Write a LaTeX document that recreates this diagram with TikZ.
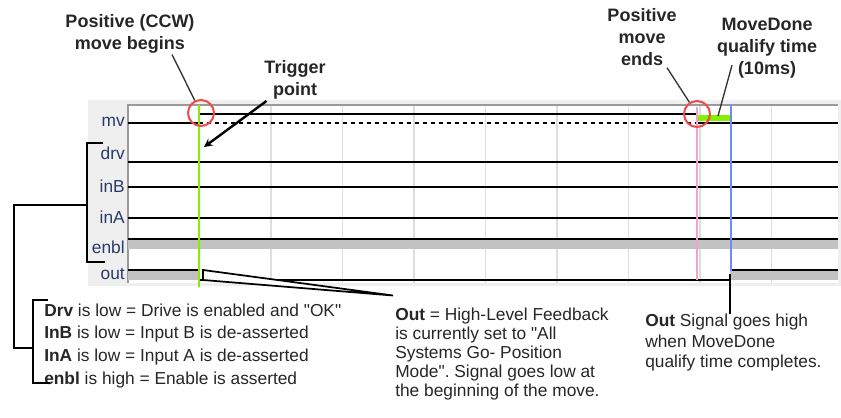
\documentclass[tikz,border=0pt]{standalone}
\usepackage{fontspec}
\setmainfont{Liberation Sans}[Ligatures=TeXOff]
\usepackage{xcolor}
\usepackage{tikz}
\usetikzlibrary{arrows, positioning, calc}
\frenchspacing

\definecolor{panelgray}{HTML}{EFEFEF}
\definecolor{gridgray}{HTML}{DEDEDE}
\definecolor{bandgray}{HTML}{C2C2C2}
\definecolor{framegray}{HTML}{9A9A9A}
\definecolor{labelblue}{HTML}{2B3A67}
\definecolor{trigreen}{HTML}{84F000}
\definecolor{endpink}{HTML}{F4A2CA}
\definecolor{doneblue}{HTML}{6E88FF}
\definecolor{ringred}{HTML}{EE4B4B}

\begin{document}
\begin{tikzpicture}[
    x=0.75pt, y=-0.75pt,
    note/.style={font=\bfseries\fontsize{13.5}{16.5}\selectfont, align=center, text=black!85, inner sep=1pt},
    sig/.style={font=\fontsize{13}{15}\selectfont, text=labelblue, anchor=east, inner sep=0pt},
    remark/.style={font=\fontsize{13}{17}\selectfont, align=left, anchor=north west, inner sep=0pt, text=black!85},
    ring/.style={draw=ringred, circle, line width=1.5pt, minimum size=19.5pt, inner sep=0pt},
    wave/.style={line width=1.1pt},
    gridline/.style={draw=gridgray, line width=1.1pt},
    lead/.style={draw=black!80, line width=1pt},
    arrow/.style={line width=1.8pt, ->, >=stealth},
    bracket/.style={line width=2.2pt},
    wedge/.style={draw, fill=white, line width=1.3pt, line join=miter}
]
\useasboundingbox (0,0) rectangle (841,417);

\fill[panelgray] (88,100) rectangle (841,286);
\fill[white] (128,105) rectangle (838,283);
\foreach \gx in {199.5,271,342.5,414,485.5,557,628.5,700,771.5}
    \draw[gridline] (\gx,105) -- (\gx,283);
\draw[framegray, line width=1.6pt] (128,283) -- (128,105) -- (838,105);

\node (mv) [sig] at (125,122) {mv};
\node (drv) [sig] at (125,153) {drv};
\node (inB) [sig] at (125,186) {inB};
\node (inA) [sig] at (125,217) {inA};
\node (enbl) [sig] at (125,247) {enbl};
\node (out) [sig] at (125,274) {out};

\draw[wave] (128,123) -- (199,123);
\draw[wave] (199,114) -- (697,114);
\draw[wave, dashed] (199,123) -- (697,123);
\draw[wave] (697,123) -- (838,123);
\fill[trigreen] (697,115) rectangle (730,121.5);
\draw[wave] (128,162) -- (838,162);
\draw[wave] (128,187) -- (838,187);
\draw[wave] (128,218) -- (838,218);
\fill[bandgray] (128,239) rectangle (838,249);
\draw[wave] (128,239) -- (838,239);
\fill[bandgray] (128,270) rectangle (199,280);
\draw[wave] (128,270) -- (199,270);
\draw[wave] (199,280) -- (730,280);
\fill[bandgray] (730,270) rectangle (838,280);
\draw[wave] (730,270) -- (838,270);

\draw[trigreen, line width=2.2pt] (199,105) -- (199,287);
\draw[endpink, line width=2pt] (697,107) -- (697,280);
\draw[doneblue, line width=1.5pt] (731,105) -- (731,271);

\node (ringstart) [ring] at (201,113) {};
\node (ringend) [ring] at (697,114) {};

\node (begins) [note] at (130,33.5) {Positive (CCW)\\move begins};
\node (trigger) [note] at (295,80) {Trigger\\point};
\node (ends) [note] at (642,37.5) {Positive\\move\\ends};
\node (qualify) [note] at (767,48.5) {MoveDone\\qualify time\\(10ms)};
\coordinate (trigtip) at (204,147);
\coordinate (qualifybar) at (718,116);

\draw[lead] ([xshift=31.5pt]begins.south) -- (ringstart);
\draw[arrow] (trigger) -- (trigtip);
\draw[lead] ([xshift=18.75pt]ends.south) -- (ringend);
\draw[lead] ([shift={(-35,-15)}]qualify.south) -- (qualifybar);

\node (statusnote) [remark] at (44,303.5) {\textbf{Drv} is low = Drive is enabled and "OK"\\
    \textbf{InB} is low = Input B is de-asserted\\
    \textbf{InA} is low = Input A is de-asserted\\
    \textbf{enbl} is high = Enable is asserted};
\node (outnote) [remark, font=\fontsize{13}{14.25}\selectfont] at (395,307.5) {\textbf{Out} = High-Level Feedback\\
    is currently set to "All\\
    Systems Go- Position\\
    Mode". Signal goes low at\\
    the beginning of the move.};
\node (donenote) [remark, font=\fontsize{13}{15.6}\selectfont] at (645,313.5) {\textbf{Out} Signal goes high\\
    when MoveDone\\
    qualify time completes.};

\coordinate (sigbrace) at (87,205);
\coordinate (notebrace) at (33,348);
\coordinate (outrise) at (730,274);
\draw[bracket] (103,143) -- (87,143) -- (87,262) -- (105,262);
\draw[bracket] (48,300) -- (33,300) -- (33,383) -- (50,383);
\draw[bracket] (sigbrace) -- (14,205) |- (notebrace);

\draw[wedge] (203,270) -- ([shift={(-2,-12)}]outnote.north west) -- (203,280) -- cycle;
\draw[bracket] (outrise) -- (outrise |- donenote.north);
\end{tikzpicture}
\end{document}
